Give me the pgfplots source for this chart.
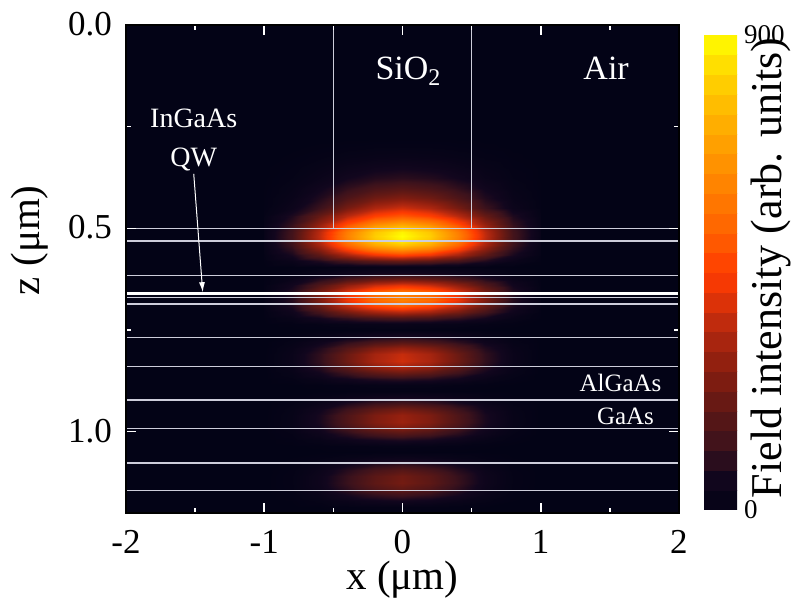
\documentclass[border=0pt]{standalone}
\usepackage{pgfplots}
\pgfplotsset{compat=1.18}
\usetikzlibrary{arrows.meta}
\usepackage{fontspec}
\setmainfont{Liberation Serif}
\definecolor{bgnavy}{RGB}{3,3,22}
\definecolor{layer}{RGB}{205,205,218}
\pgfplotsset{colormap={hotnavy}{rgb255(0pt)=(3,3,22) rgb255(60pt)=(18,6,30) rgb255(120pt)=(60,18,28) rgb255(200pt)=(100,25,20) rgb255(270pt)=(140,30,15) rgb255(340pt)=(180,40,15) rgb255(420pt)=(240,55,5) rgb255(450pt)=(255,60,0) rgb255(520pt)=(255,95,0) rgb255(600pt)=(255,125,0) rgb255(680pt)=(255,155,0) rgb255(760pt)=(255,185,0) rgb255(830pt)=(255,215,0) rgb255(900pt)=(255,255,0)}}
\begin{document}
\begin{tikzpicture}
\begin{axis}[
  scale only axis, width=276.5pt, height=244pt,
  xmin=-2, xmax=2, ymin=0, ymax=1.2, y dir=reverse,
  axis background/.style={fill=bgnavy},
  axis on top,
  colormap name=hotnavy, point meta min=0, point meta max=900,
  xtick={-2,-1,0,1,2}, xticklabels={-2,-1,0,1,2},
  minor xtick={-1.5,-0.5,0.5,1.5},
  ytick={0,0.5,1}, yticklabels={0.0,0.5,1.0},
  minor ytick={0.25,0.75},
  tick align=inside, major tick length=5pt, minor tick length=2.5pt,
  tick style={white, line width=0.8pt},
  axis line style={black, line width=0.6pt},
  every tick label/.append style={font=\fontsize{17.5}{20}\selectfont},
  xticklabel style={yshift=-5pt},
  yticklabel style={xshift=-3.5pt, yshift=0.5pt},
  xlabel={x (μm)}, ylabel={z (μm)},
  label style={font=\fontsize{20.5}{24}\selectfont},
  xlabel style={at={(axis description cs:0.5,0)}, anchor=center, yshift=-33.5pt},
  ylabel style={at={(axis description cs:-0.1736,0.559)}, anchor=center},
  colorbar sampled,
  colorbar style={
    samples=25,
    at={(parent axis.south east)}, anchor=south west, xshift=4pt, yshift=1.5pt,
    width=16.5pt, height=237.5pt,
    ytick={0,900}, yticklabels={0,900}, major tick length=0pt,
    yticklabel style={font=\fontsize{13.5}{15}\selectfont},
    axis line style={draw=none},
    ylabel={Field intensity (arb. units)},
    ylabel style={font=\fontsize{22}{26}\selectfont, at={(axis description cs:2.03,0.51)}, anchor=center},
  },
]
\addplot[surf, shader=interp, mesh/cols=11, point meta=explicit] table[row sep=\\, x=x, y=z, meta=v] {
x z v\\
-1 0.275 0\\ -0.8 0.275 0\\ -0.6 0.275 0\\ -0.4 0.275 0\\ -0.2 0.275 0\\ 0 0.275 0\\ 0.2 0.275 0\\ 0.4 0.275 0\\ 0.6 0.275 0\\ 0.8 0.275 0\\ 1 0.275 0\\
-1 0.3 0\\ -0.8 0.3 1\\ -0.6 0.3 3\\ -0.4 0.3 6\\ -0.2 0.3 9\\ 0 0.3 10\\ 0.2 0.3 9\\ 0.4 0.3 6\\ 0.6 0.3 3\\ 0.8 0.3 1\\ 1 0.3 0\\
-1 0.325 0\\ -0.8 0.325 3\\ -0.6 0.325 8\\ -0.4 0.325 16\\ -0.2 0.325 22\\ 0 0.325 25\\ 0.2 0.325 22\\ 0.4 0.325 16\\ 0.6 0.325 8\\ 0.8 0.325 3\\ 1 0.325 0\\
-1 0.35 1\\ -0.8 0.35 6\\ -0.6 0.35 18\\ -0.4 0.35 34\\ -0.2 0.35 48\\ 0 0.35 55\\ 0.2 0.35 48\\ 0.4 0.35 34\\ 0.6 0.35 18\\ 0.8 0.35 6\\ 1 0.35 1\\
-1 0.375 1\\ -0.8 0.375 10\\ -0.6 0.375 30\\ -0.4 0.375 59\\ -0.2 0.375 84\\ 0 0.375 95\\ 0.2 0.375 84\\ 0.4 0.375 59\\ 0.6 0.375 30\\ 0.8 0.375 10\\ 1 0.375 1\\
-1 0.4 2\\ -0.8 0.4 17\\ -0.6 0.4 53\\ -0.4 0.4 102\\ -0.2 0.4 145\\ 0 0.4 165\\ 0.2 0.4 145\\ 0.4 0.4 102\\ 0.6 0.4 53\\ 0.8 0.4 17\\ 1 0.4 2\\
-1 0.425 3\\ -0.8 0.425 25\\ -0.6 0.425 80\\ -0.4 0.425 155\\ -0.2 0.425 220\\ 0 0.425 250\\ 0.2 0.425 220\\ 0.4 0.425 155\\ 0.6 0.425 80\\ 0.8 0.425 25\\ 1 0.425 3\\
-1 0.45 4\\ -0.8 0.45 38\\ -0.6 0.45 120\\ -0.4 0.45 233\\ -0.2 0.45 330\\ 0 0.45 375\\ 0.2 0.45 330\\ 0.4 0.45 233\\ 0.6 0.45 120\\ 0.8 0.45 38\\ 1 0.45 4\\
-1 0.47 10\\ -0.8 0.47 77\\ -0.6 0.47 204\\ -0.4 0.47 347\\ -0.2 0.47 459\\ 0 0.47 510\\ 0.2 0.47 459\\ 0.4 0.47 347\\ 0.6 0.47 204\\ 0.8 0.47 77\\ 1 0.47 10\\
-1 0.49 14\\ -0.8 0.49 105\\ -0.6 0.49 280\\ -0.4 0.49 476\\ -0.2 0.49 630\\ 0 0.49 700\\ 0.2 0.49 630\\ 0.4 0.49 476\\ 0.6 0.49 280\\ 0.8 0.49 105\\ 1 0.49 14\\
-1 0.5 16\\ -0.8 0.5 120\\ -0.6 0.5 320\\ -0.4 0.5 544\\ -0.2 0.5 720\\ 0 0.5 800\\ 0.2 0.5 720\\ 0.4 0.5 544\\ 0.6 0.5 320\\ 0.8 0.5 120\\ 1 0.5 16\\
-1 0.51 18\\ -0.8 0.51 132\\ -0.6 0.51 352\\ -0.4 0.51 598\\ -0.2 0.51 792\\ 0 0.51 880\\ 0.2 0.51 792\\ 0.4 0.51 598\\ 0.6 0.51 352\\ 0.8 0.51 132\\ 1 0.51 18\\
-1 0.52 18\\ -0.8 0.52 135\\ -0.6 0.52 360\\ -0.4 0.52 612\\ -0.2 0.52 810\\ 0 0.52 900\\ 0.2 0.52 810\\ 0.4 0.52 612\\ 0.6 0.52 360\\ 0.8 0.52 135\\ 1 0.52 18\\
-1 0.53 17\\ -0.8 0.53 131\\ -0.6 0.53 348\\ -0.4 0.53 592\\ -0.2 0.53 783\\ 0 0.53 870\\ 0.2 0.53 783\\ 0.4 0.53 592\\ 0.6 0.53 348\\ 0.8 0.53 131\\ 1 0.53 17\\
-1 0.54 16\\ -0.8 0.54 119\\ -0.6 0.54 316\\ -0.4 0.54 537\\ -0.2 0.54 711\\ 0 0.54 790\\ 0.2 0.54 711\\ 0.4 0.54 537\\ 0.6 0.54 316\\ 0.8 0.54 119\\ 1 0.54 16\\
-1 0.55 13\\ -0.8 0.55 101\\ -0.6 0.55 268\\ -0.4 0.55 456\\ -0.2 0.55 603\\ 0 0.55 670\\ 0.2 0.55 603\\ 0.4 0.55 456\\ 0.6 0.55 268\\ 0.8 0.55 101\\ 1 0.55 13\\
-1 0.565 9\\ -0.8 0.565 69\\ -0.6 0.565 184\\ -0.4 0.565 313\\ -0.2 0.565 414\\ 0 0.565 460\\ 0.2 0.565 414\\ 0.4 0.565 313\\ 0.6 0.565 184\\ 0.8 0.565 69\\ 1 0.565 9\\
-1 0.58 4\\ -0.8 0.58 30\\ -0.6 0.58 80\\ -0.4 0.58 136\\ -0.2 0.58 180\\ 0 0.58 200\\ 0.2 0.58 180\\ 0.4 0.58 136\\ 0.6 0.58 80\\ 0.8 0.58 30\\ 1 0.58 4\\
-1 0.595 0\\ -0.8 0.595 2\\ -0.6 0.595 6\\ -0.4 0.595 10\\ -0.2 0.595 14\\ 0 0.595 15\\ 0.2 0.595 14\\ 0.4 0.595 10\\ 0.6 0.595 6\\ 0.8 0.595 2\\ 1 0.595 0\\
-1 0.61 1\\ -0.8 0.61 8\\ -0.6 0.61 24\\ -0.4 0.61 40\\ -0.2 0.61 53\\ 0 0.61 59\\ 0.2 0.61 53\\ 0.4 0.61 40\\ 0.6 0.61 24\\ 0.8 0.61 8\\ 1 0.61 1\\
-1 0.625 3\\ -0.8 0.625 30\\ -0.6 0.625 86\\ -0.4 0.625 146\\ -0.2 0.625 193\\ 0 0.625 214\\ 0.2 0.625 193\\ 0.4 0.625 146\\ 0.6 0.625 86\\ 0.8 0.625 30\\ 1 0.625 3\\
-1 0.64 6\\ -0.8 0.64 57\\ -0.6 0.64 162\\ -0.4 0.64 276\\ -0.2 0.64 365\\ 0 0.64 406\\ 0.2 0.64 365\\ 0.4 0.64 276\\ 0.6 0.64 162\\ 0.8 0.64 57\\ 1 0.64 6\\
-1 0.655 8\\ -0.8 0.655 79\\ -0.6 0.655 224\\ -0.4 0.655 381\\ -0.2 0.655 505\\ 0 0.655 561\\ 0.2 0.655 505\\ 0.4 0.655 381\\ 0.6 0.655 224\\ 0.8 0.655 79\\ 1 0.655 8\\
-1 0.665 9\\ -0.8 0.665 86\\ -0.6 0.665 245\\ -0.4 0.665 417\\ -0.2 0.665 552\\ 0 0.665 613\\ 0.2 0.665 552\\ 0.4 0.665 417\\ 0.6 0.665 245\\ 0.8 0.665 86\\ 1 0.665 9\\
-1 0.675 9\\ -0.8 0.675 86\\ -0.6 0.675 245\\ -0.4 0.675 417\\ -0.2 0.675 552\\ 0 0.675 613\\ 0.2 0.675 552\\ 0.4 0.675 417\\ 0.6 0.675 245\\ 0.8 0.675 86\\ 1 0.675 9\\
-1 0.69 8\\ -0.8 0.69 72\\ -0.6 0.69 207\\ -0.4 0.69 352\\ -0.2 0.69 465\\ 0 0.69 517\\ 0.2 0.69 465\\ 0.4 0.69 352\\ 0.6 0.69 207\\ 0.8 0.69 72\\ 1 0.69 8\\
-1 0.705 5\\ -0.8 0.705 48\\ -0.6 0.705 137\\ -0.4 0.705 233\\ -0.2 0.705 308\\ 0 0.705 342\\ 0.2 0.705 308\\ 0.4 0.705 233\\ 0.6 0.705 137\\ 0.8 0.705 48\\ 1 0.705 5\\
-1 0.72 2\\ -0.8 0.72 22\\ -0.6 0.72 62\\ -0.4 0.72 105\\ -0.2 0.72 140\\ 0 0.72 155\\ 0.2 0.72 140\\ 0.4 0.72 105\\ 0.6 0.72 62\\ 0.8 0.72 22\\ 1 0.72 2\\
-1 0.735 0\\ -0.8 0.735 4\\ -0.6 0.735 11\\ -0.4 0.735 18\\ -0.2 0.735 24\\ 0 0.735 27\\ 0.2 0.735 24\\ 0.4 0.735 18\\ 0.6 0.735 11\\ 0.8 0.735 4\\ 1 0.735 0\\
-1 0.75 0\\ -0.8 0.75 0\\ -0.6 0.75 1\\ -0.4 0.75 2\\ -0.2 0.75 3\\ 0 0.75 4\\ 0.2 0.75 3\\ 0.4 0.75 2\\ 0.6 0.75 1\\ 0.8 0.75 0\\ 1 0.75 0\\
-1 0.765 0\\ -0.8 0.765 5\\ -0.6 0.765 18\\ -0.4 0.765 37\\ -0.2 0.765 54\\ 0 0.765 63\\ 0.2 0.765 54\\ 0.4 0.765 37\\ 0.6 0.765 18\\ 0.8 0.765 5\\ 1 0.765 0\\
-1 0.78 0\\ -0.8 0.78 14\\ -0.6 0.78 48\\ -0.4 0.78 99\\ -0.2 0.78 146\\ 0 0.78 170\\ 0.2 0.78 146\\ 0.4 0.78 99\\ 0.6 0.78 48\\ 0.8 0.78 14\\ 1 0.78 0\\
-1 0.795 0\\ -0.8 0.795 23\\ -0.6 0.795 80\\ -0.4 0.795 165\\ -0.2 0.795 245\\ 0 0.795 285\\ 0.2 0.795 245\\ 0.4 0.795 165\\ 0.6 0.795 80\\ 0.8 0.795 23\\ 1 0.795 0\\
-1 0.81 0\\ -0.8 0.81 29\\ -0.6 0.81 102\\ -0.4 0.81 211\\ -0.2 0.81 313\\ 0 0.81 364\\ 0.2 0.81 313\\ 0.4 0.81 211\\ 0.6 0.81 102\\ 0.8 0.81 29\\ 1 0.81 0\\
-1 0.825 0\\ -0.8 0.825 30\\ -0.6 0.825 105\\ -0.4 0.825 218\\ -0.2 0.825 323\\ 0 0.825 376\\ 0.2 0.825 323\\ 0.4 0.825 218\\ 0.6 0.825 105\\ 0.8 0.825 30\\ 1 0.825 0\\
-1 0.84 0\\ -0.8 0.84 25\\ -0.6 0.84 89\\ -0.4 0.84 184\\ -0.2 0.84 273\\ 0 0.84 317\\ 0.2 0.84 273\\ 0.4 0.84 184\\ 0.6 0.84 89\\ 0.8 0.84 25\\ 1 0.84 0\\
-1 0.855 0\\ -0.8 0.855 17\\ -0.6 0.855 59\\ -0.4 0.855 122\\ -0.2 0.855 181\\ 0 0.855 210\\ 0.2 0.855 181\\ 0.4 0.855 122\\ 0.6 0.855 59\\ 0.8 0.855 17\\ 1 0.855 0\\
-1 0.87 0\\ -0.8 0.87 8\\ -0.6 0.87 27\\ -0.4 0.87 55\\ -0.2 0.87 82\\ 0 0.87 95\\ 0.2 0.87 82\\ 0.4 0.87 55\\ 0.6 0.87 27\\ 0.8 0.87 8\\ 1 0.87 0\\
-1 0.885 0\\ -0.8 0.885 1\\ -0.6 0.885 4\\ -0.4 0.885 9\\ -0.2 0.885 14\\ 0 0.885 16\\ 0.2 0.885 14\\ 0.4 0.885 9\\ 0.6 0.885 4\\ 0.8 0.885 1\\ 1 0.885 0\\
-1 0.9 0\\ -0.8 0.9 0\\ -0.6 0.9 1\\ -0.4 0.9 2\\ -0.2 0.9 3\\ 0 0.9 3\\ 0.2 0.9 3\\ 0.4 0.9 2\\ 0.6 0.9 1\\ 0.8 0.9 0\\ 1 0.9 0\\
-1 0.915 0\\ -0.8 0.915 3\\ -0.6 0.915 12\\ -0.4 0.915 27\\ -0.2 0.915 42\\ 0 0.915 50\\ 0.2 0.915 42\\ 0.4 0.915 27\\ 0.6 0.915 12\\ 0.8 0.915 3\\ 1 0.915 0\\
-1 0.93 0\\ -0.8 0.93 8\\ -0.6 0.93 32\\ -0.4 0.93 72\\ -0.2 0.93 113\\ 0 0.93 134\\ 0.2 0.93 113\\ 0.4 0.93 72\\ 0.6 0.93 32\\ 0.8 0.93 8\\ 1 0.93 0\\
-1 0.945 0\\ -0.8 0.945 14\\ -0.6 0.945 54\\ -0.4 0.945 122\\ -0.2 0.945 189\\ 0 0.945 225\\ 0.2 0.945 189\\ 0.4 0.945 122\\ 0.6 0.945 54\\ 0.8 0.945 14\\ 1 0.945 0\\
-1 0.96 0\\ -0.8 0.96 17\\ -0.6 0.96 69\\ -0.4 0.96 155\\ -0.2 0.96 241\\ 0 0.96 287\\ 0.2 0.96 241\\ 0.4 0.96 155\\ 0.6 0.96 69\\ 0.8 0.96 17\\ 1 0.96 0\\
-1 0.975 0\\ -0.8 0.975 18\\ -0.6 0.975 71\\ -0.4 0.975 160\\ -0.2 0.975 249\\ 0 0.975 297\\ 0.2 0.975 249\\ 0.4 0.975 160\\ 0.6 0.975 71\\ 0.8 0.975 18\\ 1 0.975 0\\
-1 0.99 0\\ -0.8 0.99 15\\ -0.6 0.99 60\\ -0.4 0.99 135\\ -0.2 0.99 210\\ 0 0.99 250\\ 0.2 0.99 210\\ 0.4 0.99 135\\ 0.6 0.99 60\\ 0.8 0.99 15\\ 1 0.99 0\\
-1 1.005 0\\ -0.8 1.005 10\\ -0.6 1.005 40\\ -0.4 1.005 90\\ -0.2 1.005 139\\ 0 1.005 166\\ 0.2 1.005 139\\ 0.4 1.005 90\\ 0.6 1.005 40\\ 0.8 1.005 10\\ 1 1.005 0\\
-1 1.02 0\\ -0.8 1.02 5\\ -0.6 1.02 18\\ -0.4 1.02 41\\ -0.2 1.02 63\\ 0 1.02 75\\ 0.2 1.02 63\\ 0.4 1.02 41\\ 0.6 1.02 18\\ 0.8 1.02 5\\ 1 1.02 0\\
-1 1.035 0\\ -0.8 1.035 1\\ -0.6 1.035 3\\ -0.4 1.035 7\\ -0.2 1.035 11\\ 0 1.035 13\\ 0.2 1.035 11\\ 0.4 1.035 7\\ 0.6 1.035 3\\ 0.8 1.035 1\\ 1 1.035 0\\
-1 1.05 0\\ -0.8 1.05 0\\ -0.6 1.05 1\\ -0.4 1.05 2\\ -0.2 1.05 2\\ 0 1.05 3\\ 0.2 1.05 2\\ 0.4 1.05 2\\ 0.6 1.05 1\\ 0.8 1.05 0\\ 1 1.05 0\\
-1 1.065 0\\ -0.8 1.065 2\\ -0.6 1.065 8\\ -0.4 1.065 19\\ -0.2 1.065 31\\ 0 1.065 38\\ 0.2 1.065 31\\ 0.4 1.065 19\\ 0.6 1.065 8\\ 0.8 1.065 2\\ 1 1.065 0\\
-1 1.08 0\\ -0.8 1.08 4\\ -0.6 1.08 21\\ -0.4 1.08 52\\ -0.2 1.08 84\\ 0 1.08 103\\ 0.2 1.08 84\\ 0.4 1.08 52\\ 0.6 1.08 21\\ 0.8 1.08 4\\ 1 1.08 0\\
-1 1.095 0\\ -0.8 1.095 7\\ -0.6 1.095 35\\ -0.4 1.095 87\\ -0.2 1.095 142\\ 0 1.095 173\\ 0.2 1.095 142\\ 0.4 1.095 87\\ 0.6 1.095 35\\ 0.8 1.095 7\\ 1 1.095 0\\
-1 1.11 0\\ -0.8 1.11 9\\ -0.6 1.11 44\\ -0.4 1.11 110\\ -0.2 1.11 180\\ 0 1.11 220\\ 0.2 1.11 180\\ 0.4 1.11 110\\ 0.6 1.11 44\\ 0.8 1.11 9\\ 1 1.11 0\\
-1 1.125 0\\ -0.8 1.125 9\\ -0.6 1.125 45\\ -0.4 1.125 114\\ -0.2 1.125 186\\ 0 1.125 227\\ 0.2 1.125 186\\ 0.4 1.125 114\\ 0.6 1.125 45\\ 0.8 1.125 9\\ 1 1.125 0\\
-1 1.14 0\\ -0.8 1.14 8\\ -0.6 1.14 38\\ -0.4 1.14 96\\ -0.2 1.14 157\\ 0 1.14 192\\ 0.2 1.14 157\\ 0.4 1.14 96\\ 0.6 1.14 38\\ 0.8 1.14 8\\ 1 1.14 0\\
-1 1.155 0\\ -0.8 1.155 5\\ -0.6 1.155 25\\ -0.4 1.155 64\\ -0.2 1.155 104\\ 0 1.155 127\\ 0.2 1.155 104\\ 0.4 1.155 64\\ 0.6 1.155 25\\ 0.8 1.155 5\\ 1 1.155 0\\
-1 1.17 0\\ -0.8 1.17 2\\ -0.6 1.17 12\\ -0.4 1.17 29\\ -0.2 1.17 48\\ 0 1.17 58\\ 0.2 1.17 48\\ 0.4 1.17 29\\ 0.6 1.17 12\\ 0.8 1.17 2\\ 1 1.17 0\\
-1 1.185 0\\ -0.8 1.185 0\\ -0.6 1.185 2\\ -0.4 1.185 5\\ -0.2 1.185 8\\ 0 1.185 10\\ 0.2 1.185 8\\ 0.4 1.185 5\\ 0.6 1.185 2\\ 0.8 1.185 0\\ 1 1.185 0\\
-1 1.2 0\\ -0.8 1.2 0\\ -0.6 1.2 0\\ -0.4 1.2 1\\ -0.2 1.2 2\\ 0 1.2 2\\ 0.2 1.2 2\\ 0.4 1.2 1\\ 0.6 1.2 0\\ 0.8 1.2 0\\ 1 1.2 0\\
};
% layer boundaries
\draw[layer, line width=0.55pt] (axis cs:-0.5,0) -- (axis cs:-0.5,0.5);
\draw[layer, line width=0.55pt] (axis cs:0.5,0) -- (axis cs:0.5,0.5);
\foreach \zz in {0.5,0.531,0.615,0.670,0.686,0.769,0.839,0.922,0.992,1.077,1.145}{
  \edef\tmp{\noexpand\draw[layer, line width=0.6pt] (axis cs:-2,\zz) -- (axis cs:2,\zz);}\tmp
}
\draw[white, line width=1.5pt] (axis cs:-2,0.660) -- (axis cs:2,0.660);
\draw[white, line width=0.5pt, -{Latex[length=5pt,width=3pt]}] (axis cs:-1.51,0.366) -- (axis cs:-1.445,0.657);
% labels
\node[white, anchor=base, font=\fontsize{17}{20}\selectfont] at (axis cs:0.04,0.133) {SiO\raisebox{-0.4ex}{\fontsize{12}{12}\selectfont 2}};
\node[white, anchor=base, font=\fontsize{17}{20}\selectfont] at (axis cs:1.473,0.133) {Air};
\node[white, anchor=base, font=\fontsize{14}{16}\selectfont] at (axis cs:-1.51,0.253) {InGaAs};
\node[white, anchor=base, font=\fontsize{14}{16}\selectfont] at (axis cs:-1.51,0.347) {QW};
\node[white, anchor=base, font=\fontsize{12.5}{15}\selectfont] at (axis cs:1.577,0.901) {AlGaAs};
\node[white, anchor=base, font=\fontsize{12.5}{15}\selectfont] at (axis cs:1.613,0.982) {GaAs};
\end{axis}
\pgfresetboundingbox
\path (-63pt,-43.5pt) rectangle (337pt,256.5pt);
\end{tikzpicture}
\end{document}
